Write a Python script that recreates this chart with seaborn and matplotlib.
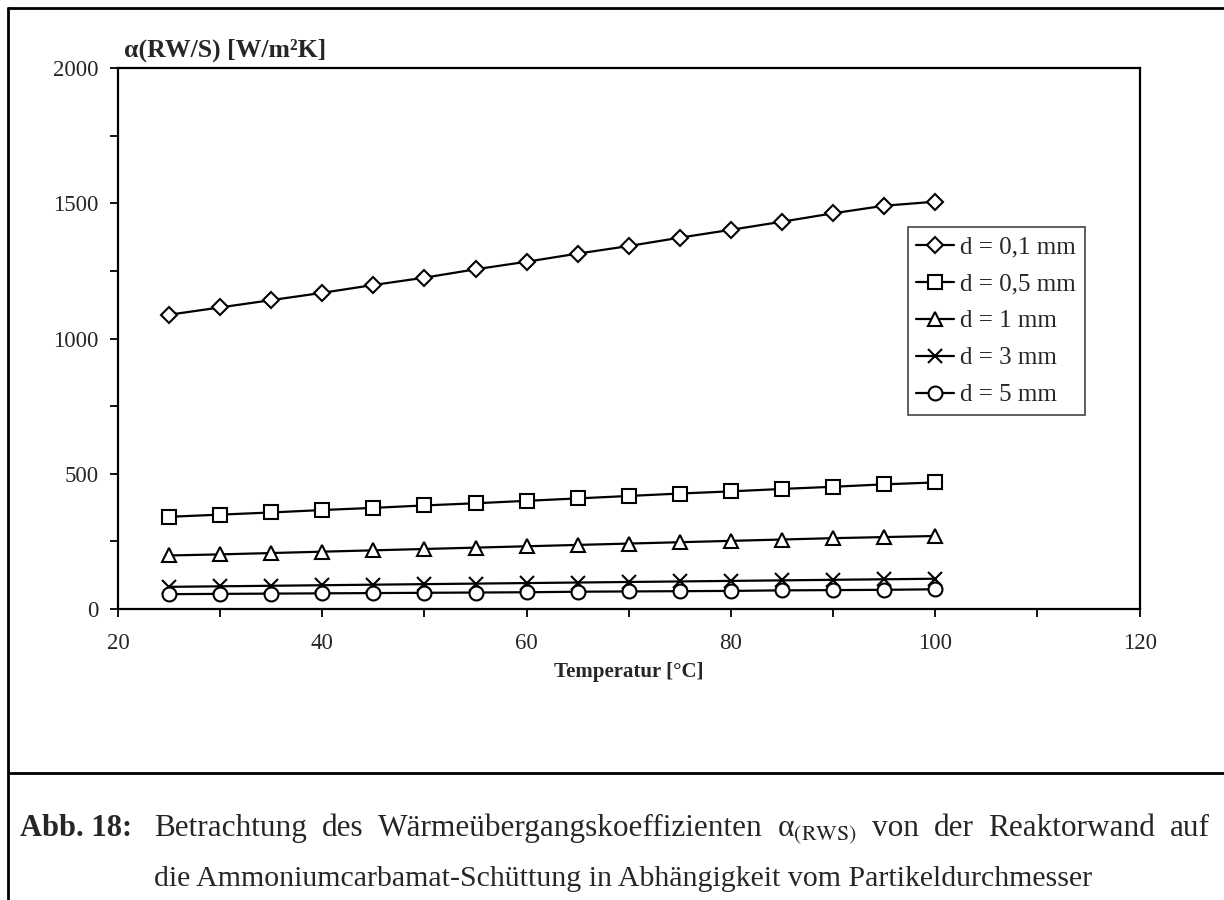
import numpy as np
import pandas as pd
import matplotlib
matplotlib.use("Agg")
import matplotlib.pyplot as plt
from matplotlib.lines import Line2D
from matplotlib.ticker import MultipleLocator
import seaborn as sns

# Werte
temperatur = [25, 30, 35, 40, 45, 50, 55, 60, 65, 70, 75, 80, 85, 90, 95, 100]
alpha_d01 = [1088, 1115, 1142, 1169, 1198, 1225, 1256, 1284, 1314, 1342, 1373, 1402, 1432, 1463, 1491, 1506]
alpha_d05 = [341, 349, 357, 366, 374, 383, 391, 400, 409, 418, 427, 435, 444, 452, 461, 468]
alpha_d1 = [198, 202, 207, 212, 217, 222, 227, 232, 237, 242, 247, 252, 257, 262, 266, 270]
alpha_d3 = [82, 84, 86, 88, 90, 92, 94, 96, 98, 100, 102, 104, 106, 108, 110, 112]
alpha_d5 = [55, 56, 57, 58, 59, 60, 61, 62, 64, 65, 66, 67, 69, 70, 71, 73]

labels = ['d = 0,1 mm', 'd = 0,5 mm', 'd = 1 mm', 'd = 3 mm', 'd = 5 mm']
markers = ['D', 's', '^', 'x', 'o']
msizes = [8.5, 10, 10.5, 10.5, 10]
serien = [alpha_d01, alpha_d05, alpha_d1, alpha_d3, alpha_d5]

caption_zeile1 = ['Betrachtung', 'des', 'Wärmeübergangskoeffizienten', r'α$_{\mathrm{(RWS)}}$',
                  'von', 'der', 'Reaktorwand', 'auf']
caption_zeile2 = 'die Ammoniumcarbamat-Schüttung in Abhängigkeit vom Partikeldurchmesser'

sns.set_style("ticks")
plt.rcParams['font.family'] = ['Liberation Serif', 'DejaVu Serif']
plt.rcParams['mathtext.fontset'] = 'stix'

fig = plt.figure(figsize=(12.24, 9), dpi=100)
ax = fig.add_axes([0.0964, 0.3233, 0.8347, 0.6011])

for werte, lab, m, ms in zip(serien, labels, markers, msizes):
    df = pd.DataFrame({'T': temperatur, 'alpha': werte})
    sns.lineplot(data=df, x='T', y='alpha', ax=ax, color='black', linewidth=1.6,
                 marker=m, markersize=ms, markerfacecolor='white',
                 markeredgecolor='black', markeredgewidth=1.5, label=lab)

ax.set_xlim(20, 120)
ax.set_ylim(0, 2000)
ax.xaxis.set_major_locator(MultipleLocator(20))
ax.xaxis.set_minor_locator(MultipleLocator(10))
ax.yaxis.set_major_locator(MultipleLocator(500))
ax.yaxis.set_minor_locator(MultipleLocator(250))
ax.tick_params(which='both', direction='out', length=6, width=1.3, color='black',
               labelsize=16.5, pad=8)
ax.tick_params(axis='x', pad=11)
for s in ax.spines.values():
    s.set_visible(True)
    s.set_linewidth(1.6)
    s.set_color('black')

ax.set_xlabel('Temperatur [°C]', fontsize=15, fontweight='bold', labelpad=6)
ax.set_ylabel('')
ax.text(0.006, 1.012, 'α(RW/S) [W/m²K]', transform=ax.transAxes, fontsize=18.5,
        fontweight='bold', ha='left', va='bottom')

leg = ax.legend(loc='upper left', bbox_to_anchor=(0.773, 0.706), fontsize=18,
                frameon=True, fancybox=False, edgecolor='#444444', framealpha=1,
                handlelength=1.5, handletextpad=0.25, labelspacing=0.58,
                borderpad=0.35, borderaxespad=0)
leg.get_frame().set_linewidth(1.2)

# Rahmen und Bildunterschrift
fig.add_artist(Line2D([0.0065, 1.0], [0.991, 0.991], color='black', lw=2))
fig.add_artist(Line2D([0.0065, 0.0065], [0.0, 0.991], color='black', lw=2))
fig.add_artist(Line2D([0.0065, 1.0], [0.141, 0.141], color='black', lw=2))

fig.text(0.016, 0.071, 'Abb. 18:', fontsize=22, fontweight='bold', ha='left', va='baseline')

# erste Zeile im Blocksatz zwischen x0 und x1
x0, x1 = 154 / 1224, 1210 / 1224
renderer = fig.canvas.get_renderer()
woerter = [fig.text(0, 0.071, w, fontsize=22.5, ha='left', va='baseline') for w in caption_zeile1]
breiten = [t.get_window_extent(renderer).width / fig.bbox.width for t in woerter]
luecke = (x1 - x0 - sum(breiten)) / (len(woerter) - 1)
x = x0
for t, b in zip(woerter, breiten):
    t.set_position((x, 0.071))
    x += b + luecke

fig.text(x0, 0.016, caption_zeile2, fontsize=21.5, ha='left', va='baseline')

fig.savefig('out.png', dpi=100)
